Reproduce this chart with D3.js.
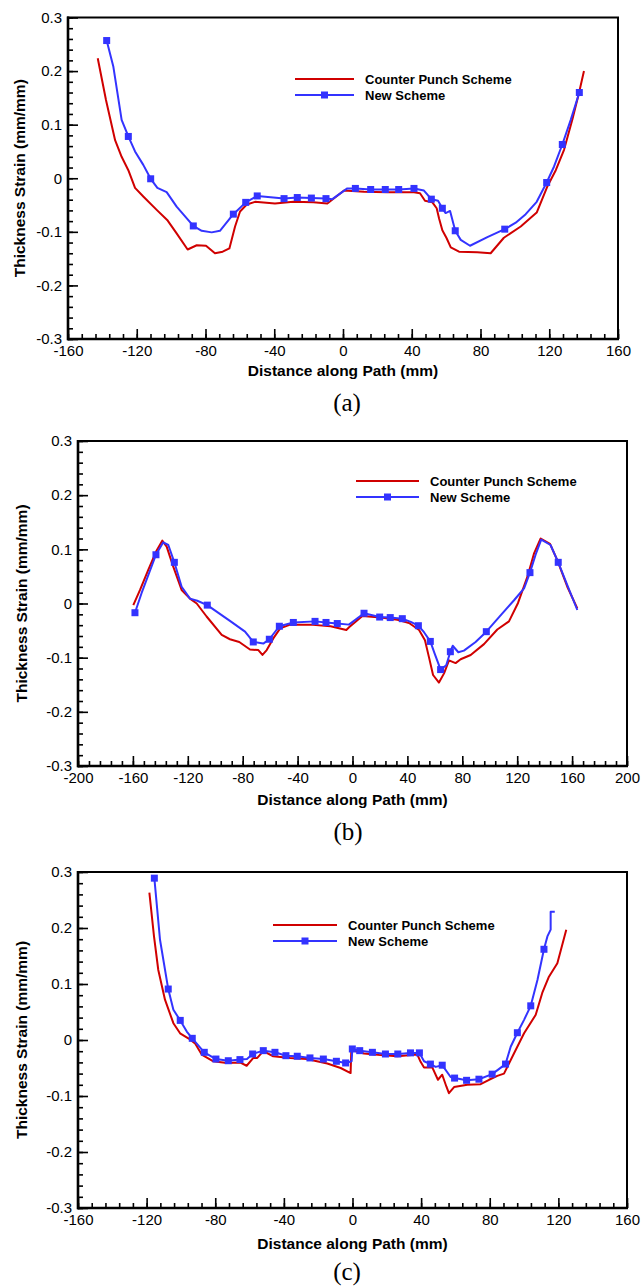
<!DOCTYPE html>
<html>
<head>
<meta charset="utf-8">
<script src="https://cdn.jsdelivr.net/npm/d3@7"></script>
<style>
body{margin:0;background:#fff}
svg{display:block}
</style>
</head>
<body>
<svg id="fig" width="644" height="1288"></svg>
<script>
// y ticks shared by all three panels
var yMajor=[-0.3,-0.2,-0.1,0,0.1,0.2,0.3]
var yMinor=d3.range(-30,31,2).map(d=>d/100)
var x160=[-160,-120,-80,-40,0,40,80,120,160]
var x200=[-200,-160,-120,-80,-40,0,40,80,120,160,200]
var legendNames=["Counter Punch Scheme","New Scheme"]
var captions=["(a)","(b)","(c)"]

// panel (a)
var aRed=[[-142.7,0.224],[-137.9,0.146],[-132.6,0.071],[-128.8,0.040],[-124.9,0.015],[-121,-0.018],[-116.2,-0.034],[-108.4,-0.059],[-102,-0.079],[-96.8,-0.103],[-90.4,-0.133],[-85.1,-0.125],[-79.7,-0.126],[-74.5,-0.140],[-70,-0.137],[-66.1,-0.131],[-62.8,-0.090],[-59.9,-0.062],[-56,-0.049],[-51.2,-0.044],[-39.6,-0.047],[-28.9,-0.044],[-17.3,-0.045],[-9.1,-0.047],[0.6,-0.023],[12.2,-0.025],[25.8,-0.026],[41.3,-0.026],[44.8,-0.028],[47.7,-0.042],[52,-0.045],[54.5,-0.056],[55.9,-0.075],[57.8,-0.097],[60.3,-0.112],[62.7,-0.129],[67.5,-0.137],[78.1,-0.138],[85.9,-0.140],[93.6,-0.111],[103.4,-0.090],[112.7,-0.064],[118.8,-0.016],[123.8,0.015],[128.6,0.053],[133.4,0.109],[137.3,0.159],[140.2,0.200]]
var aBlue=[[-137.5,0.257],[-133.6,0.208],[-128.8,0.109],[-124.9,0.078],[-121,0.050],[-116.2,0.025],[-111.9,-0.001],[-108,-0.018],[-102.6,-0.026],[-96.8,-0.053],[-87.1,-0.089],[-82.2,-0.098],[-76.4,-0.101],[-71.6,-0.098],[-63.8,-0.067],[-56.6,-0.045],[-49.9,-0.033],[-34.3,-0.038],[-26.6,-0.036],[-18.4,-0.037],[-9.9,-0.038],[-6.2,-0.039],[2.5,-0.019],[7.2,-0.019],[16.1,-0.021],[24.6,-0.021],[32.4,-0.021],[41.3,-0.019],[47.1,-0.023],[51.4,-0.039],[55.3,-0.042],[57.8,-0.056],[59.7,-0.065],[62.3,-0.061],[65.3,-0.098],[68.5,-0.115],[73.9,-0.126],[84,-0.110],[94.1,-0.095],[100.5,-0.083],[106.3,-0.067],[112.7,-0.044],[118.5,-0.008],[122.8,0.022],[127.6,0.063],[132.5,0.109],[137.5,0.160]]
var aMarks=[-137.5,-124.9,-111.9,-87.1,-63.8,-56.6,-49.9,-34.3,-26.6,-18.4,-9.9,7.2,16.1,24.6,32.4,41.3,51.4,57.8,65.3,94.1,118.5,127.6,137.5]

// panel (b)
var bRed=[[-159.7,-0.003],[-154.8,0.025],[-148.8,0.062],[-142.7,0.098],[-138.6,0.116],[-135.4,0.105],[-130.6,0.068],[-124.5,0.025],[-118.4,0.009],[-113.5,0.000],[-106.3,-0.024],[-95.3,-0.058],[-89.3,-0.066],[-82.5,-0.071],[-74.7,-0.085],[-68.6,-0.086],[-65.6,-0.095],[-62.5,-0.086],[-57.6,-0.064],[-52.7,-0.046],[-45.4,-0.039],[-30.9,-0.039],[-16,-0.042],[-4.5,-0.049],[-2.5,-0.044],[7.2,-0.023],[20.5,-0.026],[32.7,-0.030],[41.2,-0.036],[48.5,-0.049],[52.8,-0.068],[55.7,-0.099],[58.7,-0.132],[63,-0.146],[66.7,-0.129],[70.3,-0.105],[75.1,-0.110],[78.8,-0.103],[86.1,-0.095],[95.8,-0.075],[105.5,-0.048],[114,-0.033],[120.6,0.001],[127.4,0.049],[132.2,0.092],[137.1,0.120],[143.9,0.110],[149.2,0.080],[156.5,0.031],[163.8,-0.009]]
var bBlue=[[-158.5,-0.017],[-153.7,0.019],[-143.2,0.090],[-137.9,0.113],[-134.2,0.108],[-129.8,0.076],[-124.5,0.031],[-118.4,0.009],[-113.1,0.005],[-105.8,-0.003],[-89.3,-0.032],[-78.3,-0.052],[-72.3,-0.071],[-65,-0.074],[-60.6,-0.066],[-53.3,-0.042],[-43.1,-0.035],[-27.3,-0.033],[-19.3,-0.035],[-11.1,-0.037],[-2.6,-0.039],[8.4,-0.018],[19.8,-0.025],[27.5,-0.026],[36.3,-0.028],[42.4,-0.034],[48,-0.041],[52.1,-0.053],[56.7,-0.070],[59.8,-0.092],[64.2,-0.122],[68.3,-0.114],[71.3,-0.089],[73,-0.078],[77.1,-0.090],[81.2,-0.087],[89.7,-0.071],[97.5,-0.052],[107.9,-0.022],[117.7,0.006],[125,0.028],[129.3,0.057],[133.4,0.090],[137.5,0.118],[144.3,0.108],[149.9,0.076],[156.5,0.034],[163.8,-0.012]]
var bMarks=[-158.5,-143.2,-129.8,-105.8,-72.3,-60.6,-53.3,-43.1,-27.3,-19.3,-11.1,8.4,19.8,27.5,36.3,48,56.7,64.2,71.3,97.5,129.3,149.9]

// panel (c)
var cRed=[[-118.4,0.263],[-115.7,0.185],[-113.2,0.125],[-109.3,0.072],[-104.4,0.030],[-100.5,0.012],[-95.7,0.003],[-91.8,-0.006],[-87.9,-0.026],[-81.1,-0.038],[-73.3,-0.041],[-65.6,-0.040],[-61.7,-0.046],[-57.8,-0.032],[-55.5,-0.032],[-52,-0.020],[-46.2,-0.029],[-36.4,-0.032],[-26.7,-0.034],[-14.7,-0.042],[-6.9,-0.050],[-1.1,-0.059],[-0.7,-0.018],[6.7,-0.024],[16.4,-0.027],[26.1,-0.029],[37.8,-0.026],[39.7,-0.039],[41.7,-0.049],[46.5,-0.049],[49.8,-0.071],[52.3,-0.062],[54.7,-0.083],[56.2,-0.095],[59.2,-0.084],[66.9,-0.080],[74.7,-0.079],[79.6,-0.071],[84.4,-0.064],[88.3,-0.060],[94.1,-0.024],[100,0.012],[106.8,0.045],[110.6,0.084],[114.5,0.113],[119.4,0.137],[124.6,0.197]]
var cBlue=[[-115.5,0.289],[-112.2,0.179],[-107.4,0.091],[-104.4,0.054],[-100.4,0.035],[-96.6,0.015],[-93.4,0.003],[-86.4,-0.022],[-79.6,-0.034],[-72.4,-0.037],[-65.6,-0.035],[-61.5,-0.034],[-58.2,-0.025],[-52,-0.019],[-45.2,-0.022],[-38.8,-0.028],[-32.2,-0.029],[-24.8,-0.032],[-17,-0.034],[-9.4,-0.038],[-4,-0.041],[-0.5,-0.038],[-0.1,-0.016],[4.2,-0.019],[11.6,-0.022],[19.2,-0.025],[26.4,-0.025],[33.8,-0.023],[39,-0.023],[41.7,-0.038],[45.4,-0.043],[48.5,-0.048],[52.3,-0.045],[57.2,-0.066],[59.5,-0.068],[66.5,-0.072],[73.7,-0.070],[81.4,-0.061],[89.2,-0.043],[92.2,-0.012],[96.1,0.013],[100,0.036],[103.9,0.061],[107.8,0.107],[111.6,0.162],[113.6,0.185],[115.5,0.197],[115.5,0.229],[117.9,0.229]]
var cMarks=[-115.5,-107.4,-100.4,-93.4,-86.4,-79.6,-72.4,-65.6,-58.2,-52,-45.2,-38.8,-32.2,-24.8,-17,-9.4,-4,-0.1,4.2,11.6,19.2,26.4,33.8,39,45.4,52.3,59.5,66.5,73.7,81.4,89.2,96.1,103.9,111.6]

var RED="#d00000", BLUE="#3333ff"
var svg=d3.select("#fig")

var panels=[
 {l:68,r:618,t:17.5,b:339,xt:x160,red:aRed,blue:aBlue,marks:aMarks,lg:[295,354,79,365],cap:[347,411],ytx:19,titleDy:37},
 {l:78,r:627,t:441,b:766,xt:x200,red:bRed,blue:bBlue,marks:bMarks,lg:[356,419,481,430],cap:[348,840],ytx:21.5,titleDy:39},
 {l:78,r:627,t:872,b:1208,xt:x160,red:cRed,blue:cBlue,marks:cMarks,lg:[273,337,925,348],cap:[347,1280],ytx:21.5,titleDy:41}
]

function drawPanel(p,i){
  var xt=p.xt
  var x=d3.scaleLinear().domain([xt[0],xt[xt.length-1]]).range([p.l,p.r])
  var y=d3.scaleLinear().domain([-0.3,0.3]).range([p.b,p.t])
  var step=(xt[1]-xt[0])/5
  var xMinor=d3.range(xt[0],xt[xt.length-1]+0.1,step)
  var g=svg.append("g")

  // minor ticks
  g.append("g").attr("transform","translate(0,"+p.b+")")
   .call(d3.axisBottom(x).tickValues(xMinor).tickSize(-5).tickFormat(""))
  g.append("g").attr("transform","translate("+p.l+",0)")
   .call(d3.axisLeft(y).tickValues(yMinor).tickSize(-5).tickFormat(""))
  // major ticks + labels
  g.append("g").attr("class","xa").attr("transform","translate(0,"+p.b+")")
   .call(d3.axisBottom(x).tickValues(xt).tickSize(-10).tickPadding(6).tickFormat(d=>String(d)))
  g.append("g").attr("class","ya").attr("transform","translate("+p.l+",0)")
   .call(d3.axisLeft(y).tickValues(yMajor).tickSize(-10).tickPadding(6).tickFormat(d=>String(d)))
  g.selectAll(".domain").remove()
  g.selectAll(".tick line").attr("stroke","#000").attr("stroke-width",1.6)
  g.selectAll(".tick text").attr("font-family","'Liberation Sans',Arial,sans-serif").attr("font-size","15px").attr("fill","#000")

  // frame
  g.append("rect").attr("x",p.l).attr("y",p.t).attr("width",p.r-p.l).attr("height",p.b-p.t)
   .attr("fill","none").attr("stroke","#000").attr("stroke-width",2)
  g.append("line").attr("x1",p.l).attr("x2",p.l).attr("y1",p.t-1).attr("y2",p.b+1.2).attr("stroke","#000").attr("stroke-width",2.6)
  g.append("line").attr("x1",p.l-1).attr("x2",p.r+1).attr("y1",p.b).attr("y2",p.b).attr("stroke","#000").attr("stroke-width",2.6)

  var line=d3.line().x(d=>x(d[0])).y(d=>y(d[1]))
  g.append("path").datum(p.red).attr("d",line).attr("fill","none").attr("stroke",RED).attr("stroke-width",2).attr("stroke-linejoin","round")
  g.append("path").datum(p.blue).attr("d",line).attr("fill","none").attr("stroke",BLUE).attr("stroke-width",2).attr("stroke-linejoin","round")
  var mk=p.marks.map(m=>p.blue.find(d=>d[0]==m))
  g.selectAll("rect.mk").data(mk).enter().append("rect").attr("class","mk")
   .attr("x",d=>x(d[0])-3.5).attr("y",d=>y(d[1])-3.5).attr("width",7).attr("height",7).attr("fill",BLUE)

  // legend
  var lg=p.lg
  g.append("line").attr("x1",lg[0]).attr("x2",lg[1]).attr("y1",lg[2]).attr("y2",lg[2]).attr("stroke",RED).attr("stroke-width",2)
  g.append("line").attr("x1",lg[0]).attr("x2",lg[1]).attr("y1",lg[2]+16).attr("y2",lg[2]+16).attr("stroke",BLUE).attr("stroke-width",2)
  g.append("rect").attr("x",(lg[0]+lg[1])/2-3.5).attr("y",lg[2]+16-3.5).attr("width",7).attr("height",7).attr("fill",BLUE)
  legendNames.forEach(function(n,k){
    g.append("text").attr("x",lg[3]).attr("y",lg[2]+16*k+4.5).text(n)
     .attr("font-family","'Liberation Sans',Arial,sans-serif").attr("font-weight","bold").attr("font-size","13px")
  })

  // axis titles
  g.append("text").attr("x",(p.l+p.r)/2).attr("y",p.b+p.titleDy).attr("text-anchor","middle")
   .attr("font-family","'Liberation Sans',Arial,sans-serif").attr("font-weight","bold").attr("font-size","15.5px")
   .text("Distance along Path (mm)")
  g.append("text").attr("transform","translate("+(p.ytx+5.5)+","+((p.t+p.b)/2)+") rotate(-90)").attr("text-anchor","middle")
   .attr("font-family","'Liberation Sans',Arial,sans-serif").attr("font-weight","bold").attr("font-size","15.5px")
   .text("Thickness Strain (mm/mm)")

  svg.append("text").attr("x",p.cap[0]).attr("y",p.cap[1]).attr("text-anchor","middle")
   .attr("font-family","'Liberation Serif','Times New Roman',serif").attr("font-size","25px")
   .text(captions[i])
}
panels.forEach(drawPanel)
</script>
</body>
</html>
